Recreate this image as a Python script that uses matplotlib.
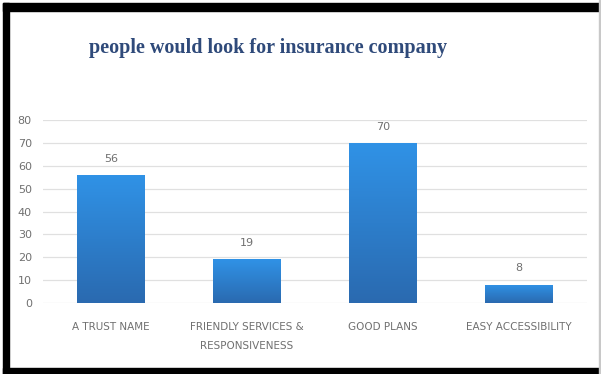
import numpy as np
import matplotlib.pyplot as plt
from matplotlib.patches import Rectangle
from matplotlib.colors import LinearSegmentedColormap

# data
categories = ['A TRUST NAME', 'FRIENDLY SERVICES &\nRESPONSIVENESS', 'GOOD PLANS', 'EASY ACCESSIBILITY']
values = [56, 19, 70, 8]
yticks = [0, 10, 20, 30, 40, 50, 60, 70, 80]

fig = plt.figure(figsize=(6.01, 3.74), dpi=100)
ax = fig.add_axes([0.0715, 0.1904, 0.905, 0.488])

x = np.arange(len(categories))
bars = ax.bar(x, values, width=0.5, color='#2E80D0', zorder=3)

# vertical gradient inside each bar
grad = LinearSegmentedColormap.from_list('g', ['#2A6AB0', '#3092E6'])
for b in bars:
    x0, y0 = b.get_x(), b.get_y()
    w, h = b.get_width(), b.get_height()
    im = ax.imshow(np.linspace(0, 1, 100).reshape(-1, 1), cmap=grad, origin='lower',
                   extent=[x0, x0 + w, y0, y0 + h], aspect='auto', zorder=4)
    im.set_clip_path(b)

for xi, v in zip(x, values):
    ax.text(xi, v + 5, str(v), ha='center', va='bottom', fontsize=8, color='#707070')

ax.set_xlim(-0.5, len(categories) - 0.5)
ax.set_ylim(0, 80)
ax.set_yticks(yticks)
ax.set_xticks(x)
ax.set_xticklabels(categories, fontsize=7.5, color='#707070', linespacing=2.1)
ax.tick_params(axis='y', labelsize=8, labelcolor='#707070', length=0, pad=8)
ax.tick_params(axis='x', length=0, pad=14)
ax.yaxis.grid(True, color='#E0E0E0', linewidth=0.9, zorder=0)
for s in ax.spines.values():
    s.set_visible(False)

fig.text(0.446, 0.872, 'people would look for insurance company', ha='center', va='center',
         fontsize=14.5, fontweight='bold', family='Liberation Serif', color='#2F4A7A')

# black frame around the picture
W, H = 601, 374
def px(x0, y0, w, h):
    fig.patches.append(Rectangle((x0 / W, 1 - (y0 + h) / H), w / W, h / H,
                                 transform=fig.transFigure, color='black', zorder=10))
px(3, 3, 598, 8)     # top
px(3, 3, 6, 371)     # left
px(3, 368, 598, 6)   # bottom
fig.patches.append(Rectangle((599 / W, 0), 1 / W, 1, transform=fig.transFigure,
                             color='#C8C8C8', zorder=10))

fig.savefig('out.png', dpi=100)
